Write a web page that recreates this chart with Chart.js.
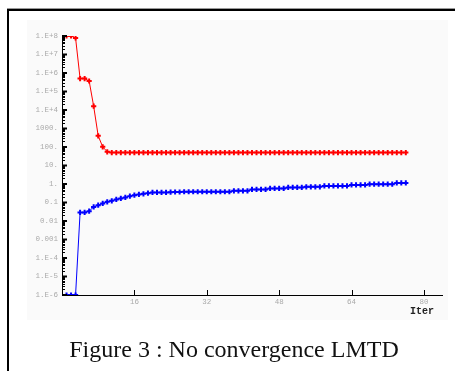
<!DOCTYPE html>
<html>
<head>
<meta charset="utf-8">
<script src="https://cdn.jsdelivr.net/npm/chart.js@4"></script>
<style>
  body { margin: 0; background: #fff; }
  #wrap { position: relative; width: 455px; height: 371px; overflow: hidden; }
  #caption {
    position: absolute; left: 0; width: 468px; top: 336px;
    text-align: center; font-family: 'Liberation Serif', serif;
    font-size: 24px; color: #111; white-space: nowrap;
  }
</style>
</head>
<body>
<div id="wrap">
  <canvas id="chart" width="455" height="371"></canvas>
  <div id="caption">Figure 3 : No convergence LMTD</div>
</div>
<script>
'use strict';

// iteration numbers (x)
let iters = [1, 2, 3, 4, 5, 6, 7, 8, 9, 10, 11, 12, 13, 14, 15, 16, 17, 18, 19, 20,
  21, 22, 23, 24, 25, 26, 27, 28, 29, 30, 31, 32, 33, 34, 35, 36, 37, 38, 39, 40,
  41, 42, 43, 44, 45, 46, 47, 48, 49, 50, 51, 52, 53, 54, 55, 56, 57, 58, 59, 60,
  61, 62, 63, 64, 65, 66, 67, 68, 69, 70, 71, 72, 73, 74, 75, 76];

// red series
let redValues = [1e8, 1e8, 7.8e7, 5e5, 5e5, 3.7e5, 1.6e4, 400, 102, 55,
  50, 50, 50, 50, 50, 50, 50, 50, 50, 50,
  50, 50, 50, 50, 50, 50, 50, 50, 50, 50,
  50, 50, 50, 50, 50, 50, 50, 50, 50, 50,
  50, 50, 50, 50, 50, 50, 50, 50, 50, 50,
  50, 50, 50, 50, 50, 50, 50, 50, 50, 50,
  50, 50, 50, 50, 50, 50, 50, 50, 50, 50,
  50, 50, 50, 50, 50, 50];

// blue series
let blueValues = [1e-6, 1e-6, 1e-6, 0.029, 0.029, 0.034, 0.058, 0.072, 0.089, 0.109,
  0.123, 0.147, 0.166, 0.188, 0.221, 0.25, 0.273, 0.295, 0.32, 0.35,
  0.35, 0.35, 0.35, 0.36, 0.37, 0.37, 0.38, 0.38, 0.38, 0.38,
  0.38, 0.38, 0.38, 0.38, 0.38, 0.38, 0.38, 0.43, 0.43, 0.43,
  0.43, 0.51, 0.51, 0.51, 0.51, 0.575, 0.575, 0.575, 0.575, 0.65,
  0.65, 0.65, 0.65, 0.70, 0.70, 0.70, 0.70, 0.79, 0.79, 0.79,
  0.79, 0.79, 0.79, 0.89, 0.89, 0.89, 0.89, 0.98, 0.98, 0.98,
  0.98, 0.98, 0.98, 1.15, 1.15, 1.15];

// axis ticks
let yTickValues = [1e8, 1e7, 1e6, 1e5, 1e4, 1000, 100, 10, 1, 0.1, 0.01, 0.001, 1e-4, 1e-5, 1e-6];
let yTickLabels = ['1.E+8', '1.E+7', '1.E+6', '1.E+5', '1.E+4', '1000.', '100.', '10.', '1.',
  '0.1', '0.01', '0.001', '1.E-4', '1.E-5', '1.E-6'];
let xTickValues = [16, 32, 48, 64, 80];

function toPoints(values) {
  let pts = [];
  for (let i = 0; i < values.length; i++) {
    pts.push({ x: iters[i], y: values[i] });
  }
  return pts;
}

let tickFont = { family: 'Liberation Mono', size: 7.5 };

// page frame + grey panel behind the plot
let framePlugin = {
  id: 'frame',
  beforeDraw(chart) {
    let ctx = chart.ctx;
    ctx.save();
    ctx.fillStyle = '#ffffff';
    ctx.fillRect(0, 0, 455, 371);
    ctx.fillStyle = '#fafafa';
    ctx.fillRect(27, 20, 421, 300);
    ctx.fillStyle = '#9a9a9a';
    ctx.fillRect(7, 8, 448, 1);
    ctx.fillStyle = '#000';
    ctx.fillRect(7, 9, 448, 2);
    ctx.fillRect(7, 9, 2, 362);
    ctx.restore();
  },
  afterDraw(chart) {
    let ctx = chart.ctx;
    let area = chart.chartArea;
    let ys = chart.scales.y;
    let xs = chart.scales.x;
    ctx.save();
    ctx.strokeStyle = '#000';
    // y ticks pointing into the plot, major + log minors
    for (let d = -6; d <= 8; d++) {
      let py = ys.getPixelForValue(Math.pow(10, d));
      ctx.lineWidth = 2;
      ctx.beginPath();
      ctx.moveTo(area.left, py);
      ctx.lineTo(area.left + 5, py);
      ctx.stroke();
      if (d < 8) {
        for (let m = 2; m <= 9; m++) {
          let my = Math.round(ys.getPixelForValue(m * Math.pow(10, d))) + 0.5;
          ctx.lineWidth = 1;
          ctx.beginPath();
          ctx.moveTo(area.left, my);
          ctx.lineTo(area.left + 3, my);
          ctx.stroke();
        }
      }
    }
    // x ticks pointing up
    ctx.lineWidth = 1;
    for (let t of xTickValues) {
      let px = Math.round(xs.getPixelForValue(t)) + 0.5;
      ctx.beginPath();
      ctx.moveTo(px, area.bottom);
      ctx.lineTo(px, area.bottom - 5);
      ctx.stroke();
    }
    ctx.fillStyle = '#222';
    ctx.font = 'bold 10px "Liberation Mono"';
    ctx.textAlign = 'left';
    ctx.fillText('Iter', 410, 314);
    ctx.restore();
  }
};

let canvasElem = document.getElementById('chart');

let chartObj = {
  type: 'line',
  data: {
    datasets: [{
      label: 'red',
      data: toPoints(redValues),
      borderColor: '#ff0000',
      backgroundColor: '#ff0000',
      borderWidth: 1,
      pointStyle: 'cross',
      pointRadius: 2.6,
      pointBorderWidth: 2,
      tension: 0
    },
    {
      label: 'blue',
      data: toPoints(blueValues),
      borderColor: '#0000ff',
      backgroundColor: '#0000ff',
      borderWidth: 1,
      pointStyle: 'cross',
      pointRadius: 2.6,
      pointBorderWidth: 2,
      tension: 0
    }]
  },
  options: {
    responsive: false,
    animation: false,
    layout: { padding: { left: 0, top: 36, right: 13, bottom: 0 } },
    plugins: {
      legend: { display: false },
      tooltip: { enabled: false }
    },
    scales: {
      x: {
        type: 'linear',
        min: 0,
        max: 84,
        afterFit: (scale) => { scale.height = 76; },
        afterBuildTicks: (scale) => { scale.ticks = xTickValues.map(v => ({ value: v })); },
        grid: { display: false, drawTicks: false },
        border: { display: true, color: '#000', width: 1 },
        ticks: { color: '#aaaaaa', font: tickFont, padding: 3, maxRotation: 0 }
      },
      y: {
        type: 'logarithmic',
        min: 1e-6,
        max: 1e8,
        afterFit: (scale) => { scale.width = 62; },
        afterBuildTicks: (scale) => { scale.ticks = yTickValues.map(v => ({ value: v })); },
        grid: { display: false, drawTicks: false },
        border: { display: true, color: '#000', width: 1 },
        ticks: {
          color: '#aaaaaa',
          font: tickFont,
          padding: 4,
          autoSkip: false,
          callback: (value, index) => yTickLabels[index]
        }
      }
    }
  },
  plugins: [framePlugin]
};

new Chart(canvasElem, chartObj);
</script>
</body>
</html>
